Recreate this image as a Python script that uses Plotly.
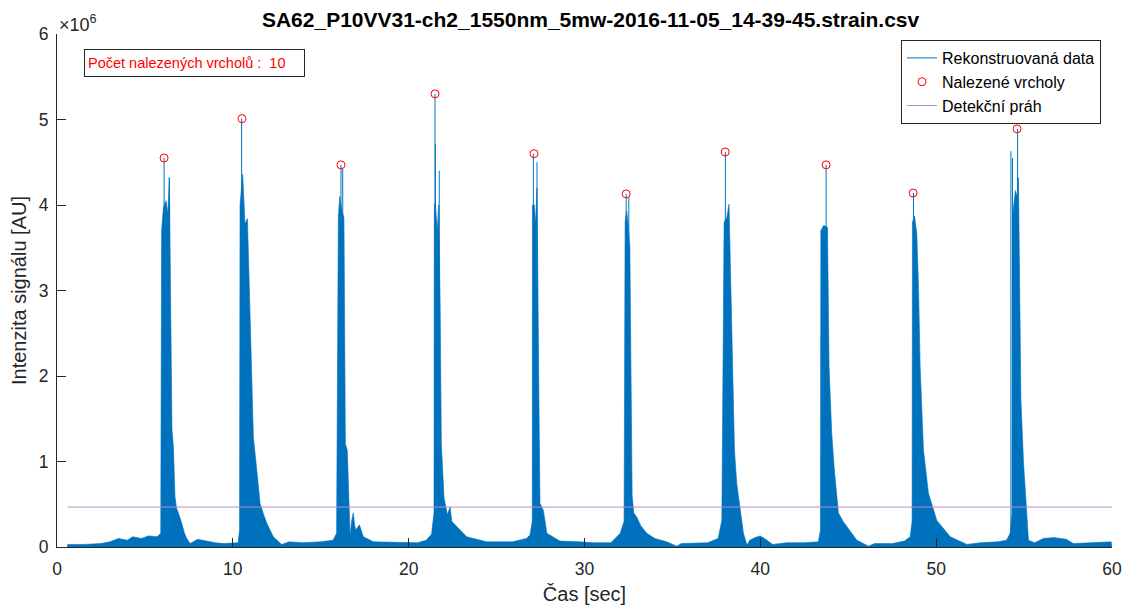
import plotly.graph_objects as go

# ---- data (intensity in units of 1e6 AU) ----
env_t = [0.6, 0.6, 1.5, 2.5, 3.0, 3.5, 4.0, 4.3, 4.8, 5.2, 5.7, 5.9,
         5.95, 6.05, 6.2, 6.3, 6.39, 6.43, 6.47, 6.54, 6.62, 6.71, 6.8, 6.9, 7.09, 7.25, 7.38, 7.57,
         8.0, 8.5, 9.0, 9.5, 10.3, 10.38,
         10.41, 10.56, 10.69, 10.83, 10.9, 10.98, 11.17, 11.36, 11.55, 11.75, 11.93, 12.3, 12.78,
         13.2, 14.0, 15.0, 15.7, 15.9,
         16.0, 16.08, 16.2, 16.32, 16.36, 16.4, 16.51, 16.59, 16.67, 16.75, 16.85, 16.93, 17.0, 17.2, 17.42,
         18.0, 19.5, 20.5, 21.0, 21.3,
         21.44, 21.46, 21.52, 21.63, 21.7, 21.79, 21.86, 22.01, 22.2, 22.36, 22.45, 22.74, 23.3,
         24.44, 25.9, 26.7, 26.9,
         27.03, 27.04, 27.15, 27.22, 27.3, 27.34, 27.42, 27.47, 27.66, 27.86, 28.6,
         29.75, 30.5, 31.5, 32.03, 32.25,
         32.31, 32.4, 32.49, 32.58, 32.63, 32.71, 32.8, 32.97, 33.2, 33.54, 34.0, 34.68, 35.25,
         35.5, 37.0, 37.6, 37.81,
         37.94, 38.09, 38.22, 38.32, 38.43, 38.53, 38.66, 38.85, 39.04, 39.24, 39.4, 39.7, 39.99, 40.3, 40.7,
         41.5, 42.5, 43.3, 43.42,
         43.44, 43.6, 43.82, 43.91, 44.06, 44.21, 44.44, 44.7, 44.92, 45.49, 46.15,
         46.5, 47.5, 48.2, 48.52, 48.63,
         48.65, 48.77, 48.9, 49.0, 49.09, 49.28, 49.56, 50.04, 50.8, 51.75,
         52.5, 53.5, 54.0, 54.21, 54.32,
         54.34, 54.5, 54.6, 54.68, 54.75, 54.82, 54.97, 55.12, 55.25, 55.6, 56.1, 56.7, 57.4, 57.8,
         59.0, 59.95, 60.0]
env_v = [0.0, 0.03, 0.03, 0.04, 0.06, 0.10, 0.08, 0.12, 0.10, 0.13, 0.12, 0.16,
         3.70, 3.97, 4.05, 3.90, 4.32, 3.60, 2.22, 1.37, 1.17, 0.59, 0.45, 0.40, 0.28, 0.16, 0.10, 0.04,
         0.09, 0.07, 0.05, 0.04, 0.05, 0.20,
         4.00, 4.36, 3.78, 3.84, 3.30, 2.45, 1.28, 0.90, 0.51, 0.38, 0.28, 0.12, 0.03,
         0.06, 0.05, 0.06, 0.08, 0.16,
         3.85, 4.10, 3.93, 3.85, 2.50, 1.21, 1.13, 0.47, 0.12, 0.30, 0.40, 0.25, 0.20, 0.26, 0.12,
         0.06, 0.05, 0.05, 0.08, 0.15,
         0.40, 4.01, 4.01, 3.70, 4.00, 2.85, 1.20, 0.58, 0.38, 0.47, 0.30, 0.24, 0.12,
         0.06, 0.06, 0.10, 0.14,
         0.30, 4.00, 4.00, 3.78, 4.20, 2.85, 1.48, 0.51, 0.43, 0.16, 0.07,
         0.06, 0.05, 0.05, 0.16, 0.30,
         3.80, 3.93, 3.76, 3.50, 2.10, 0.60, 0.40, 0.35, 0.25, 0.16, 0.10, 0.06, 0.01,
         0.04, 0.05, 0.10, 0.31,
         3.80, 3.85, 4.01, 3.08, 2.10, 1.13, 0.74, 0.45, 0.16, 0.02, 0.08, 0.11, 0.13, 0.09, 0.03,
         0.05, 0.05, 0.06, 0.20,
         3.70, 3.76, 3.74, 2.10, 1.33, 0.90, 0.40, 0.30, 0.24, 0.08, 0.01,
         0.04, 0.04, 0.07, 0.12, 0.30,
         3.80, 3.87, 3.66, 3.00, 2.10, 1.13, 0.63, 0.31, 0.12, 0.03,
         0.05, 0.06, 0.08, 0.16, 0.40,
         3.85, 4.17, 4.10, 4.32, 3.00, 1.72, 0.98, 0.43, 0.08, 0.05, 0.10, 0.11, 0.09, 0.04,
         0.05, 0.06, 0.0]

# thin spikes rising above the dense signal body
spike_t = [6.09, 6.39, 10.50, 16.15, 16.25, 21.50, 21.52, 21.74, 27.09, 27.30, 32.37, 32.52,
           38.01, 43.74, 48.71, 54.25, 54.34, 54.63]
spike_v = [4.55, 4.32, 5.01, 4.47, 4.42, 5.30, 4.71, 4.40, 4.60, 4.50, 4.13, 4.09,
           4.62, 4.47, 4.14, 4.63, 4.55, 4.89]

# detected peaks
peak_t = [6.09, 10.52, 16.15, 21.50, 27.13, 32.37, 38.00, 43.74, 48.69, 54.60]
peak_v = [4.55, 5.01, 4.47, 5.30, 4.60, 4.13, 4.62, 4.47, 4.14, 4.89]

# detection threshold
thr_t = [0.6, 60.0]
thr_v = [0.467, 0.467]

y_ticks = [0, 1, 2, 3, 4, 5, 6]
x_ticks = [0, 10, 20, 30, 40, 50, 60]
SCALE = 1e6

title = "SA62_P10VV31-ch2_1550nm_5mw-2016-11-05_14-39-45.strain.csv"
count_text = "Počet nalezených vrcholů : &nbsp;" + str(len(peak_t))

BLUE = "#0072BD"
AXC = "#262626"
FONT = "Liberation Sans, Arial, sans-serif"

sx, sy = [], []
for t, v in zip(spike_t, spike_v):
    sx += [t, t, None]
    sy += [0, v * SCALE, None]

fig = go.Figure()
fig.add_trace(go.Scatter(x=sx, y=sy, mode="lines", name="Rekonstruovaná data",
                         line=dict(color=BLUE, width=1)))
fig.add_trace(go.Scatter(x=env_t, y=[v * SCALE for v in env_v], mode="lines",
                         fill="tozeroy", fillcolor=BLUE, showlegend=False,
                         line=dict(color=BLUE, width=0.6)))
fig.add_trace(go.Scatter(x=peak_t, y=[v * SCALE for v in peak_v], mode="markers",
                         name="Nalezené vrcholy",
                         marker=dict(symbol="circle-open", size=8,
                                     color="#FF0000", line=dict(width=1, color="#FF0000"))))
fig.add_trace(go.Scatter(x=thr_t, y=[v * SCALE for v in thr_v], mode="lines",
                         name="Detekční práh",
                         line=dict(color="#B98AC6", width=1)))

fig.update_layout(
    width=1129, height=599,
    margin=dict(l=49, r=25, t=26, b=60),
    paper_bgcolor="white", plot_bgcolor="white",
    font=dict(family=FONT, color=AXC),
    title=dict(text="<b>" + title + "</b>", x=0.516, xanchor="center",
               y=0.981, yanchor="middle", font=dict(size=21, color="black", family=FONT)),
    legend=dict(x=0.9896, y=0.9883, xanchor="right", yanchor="top",
                bgcolor="white", bordercolor=AXC, borderwidth=1,
                font=dict(size=16, color="black", family=FONT),
                itemwidth=30),
    showlegend=True,
)
fig.update_xaxes(range=[0, 60], tickvals=x_ticks, ticktext=[str(v) for v in x_ticks],
                 ticks="inside", ticklen=9, tickcolor=AXC, showline=True, linecolor=AXC,
                 linewidth=1, showgrid=False, zeroline=False, mirror=False, automargin=False,
                 tickfont=dict(size=17.5, color=AXC), ticklabelstandoff=6,
                 title=dict(text="Čas [sec]", font=dict(size=20, color=AXC), standoff=8))
fig.update_yaxes(range=[0, 6 * SCALE], tickvals=[v * SCALE for v in y_ticks],
                 ticktext=[str(v) for v in y_ticks],
                 ticks="inside", ticklen=9, tickcolor=AXC, showline=True, linecolor=AXC,
                 linewidth=1, showgrid=False, zeroline=False, mirror=False, automargin=False,
                 tickfont=dict(size=17.5, color=AXC), ticklabelstandoff=4,
                 title=dict(text="Intenzita signálu [AU]", font=dict(size=20, color=AXC), standoff=6))

fig.add_annotation(xref="paper", yref="paper", x=0.0, y=1.0, xanchor="left", yanchor="bottom",
                   text="×10<sup>6</sup>", showarrow=False, yshift=-3,
                   font=dict(size=18, color=AXC, family=FONT))
fig.add_annotation(xref="paper", yref="paper", x=0.0256, y=0.9708, xanchor="left", yanchor="top",
                   text=count_text, showarrow=False, align="left",
                   width=213, height=20, borderpad=3,
                   bordercolor=AXC, borderwidth=1, bgcolor="white",
                   font=dict(size=14.5, color="#FF0000", family=FONT))

fig.write_html("out.html")
